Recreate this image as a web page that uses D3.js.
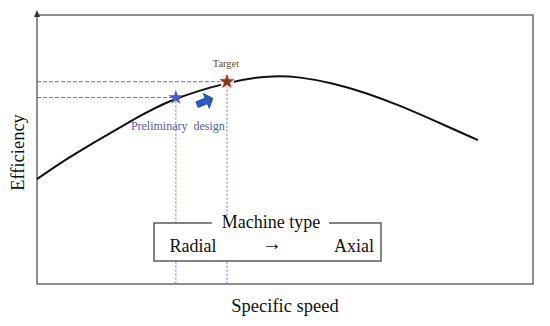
<!DOCTYPE html>
<html>
<head>
<meta charset="utf-8">
<script src="https://cdn.jsdelivr.net/npm/d3@7"></script>
<style>
  body { margin: 0; background: #fff; }
  svg { display: block; }
  text { font-family: "Liberation Serif", "Times New Roman", serif; }
</style>
</head>
<body>
<svg id="chart" width="550" height="326"></svg>
<script>
// efficiency curve (specific speed 0-100, efficiency 0-100)
const curveSpeed = [0, 6.5, 13.3, 20.0, 26.6, 38.3, 47.0, 53.0, 59.7, 66.5, 73.2, 79.8, 88.9];
const curveEff   = [39.0, 47.2, 54.6, 61.7, 68.4, 75.1, 77.6, 77.0, 74.7, 71.0, 66.3, 61.0, 53.5];

const pointNames = ["Preliminary design", "Target"];
const pointSpeed = [28.0, 38.3];
const pointEff   = [69.3, 75.2];

const machineTypes = ["Radial", "\u2192", "Axial"];

const svg = d3.select("#chart");
const W = 550, H = 326;
const m = { left: 37, right: 17, top: 15, bottom: 42 };

const x = d3.scaleLinear().domain([0, 100]).range([m.left, W - m.right]);
const y = d3.scaleLinear().domain([0, 100]).range([H - m.bottom, m.top]);

const dashCol = "#5f6ee0";

// frame
svg.append("rect")
    .attr("x", x(0)).attr("y", y(100))
    .attr("width", x(100) - x(0)).attr("height", y(0) - y(100))
    .attr("fill", "none")
    .attr("stroke", "#6a6a6a")
    .attr("stroke-width", 1.5);

// little arrow on the y axis
svg.append("path")
    .attr("d", `M${x(0) - 3},${y(100) + 2} L${x(0)},${y(100) - 5} L${x(0) + 3},${y(100) + 2} Z`)
    .attr("fill", "#333");

// guide lines
pointSpeed.forEach((s, i) => {
    svg.append("line")
        .attr("x1", x(0)).attr("x2", x(s))
        .attr("y1", y(pointEff[i])).attr("y2", y(pointEff[i]))
        .attr("stroke", dashCol).attr("stroke-width", 1)
        .attr("stroke-dasharray", "4,2");
    svg.append("line")
        .attr("x1", x(s)).attr("x2", x(s))
        .attr("y1", y(pointEff[i])).attr("y2", y(0))
        .attr("stroke", dashCol).attr("stroke-width", 1)
        .attr("stroke-dasharray", "2,2");
});

// efficiency curve
const line = d3.line()
    .x(d => x(d[0]))
    .y(d => y(d[1]))
    .curve(d3.curveBasis);

svg.append("path")
    .datum(d3.zip(curveSpeed, curveEff))
    .attr("d", line)
    .attr("fill", "none")
    .attr("stroke", "#111")
    .attr("stroke-width", 2);

// markers
const star = d3.symbol().type(d3.symbolStar).size(70);
svg.append("path")
    .attr("d", star())
    .attr("transform", `translate(${x(pointSpeed[0])},${y(pointEff[0])})`)
    .attr("fill", "#4d55d8");
svg.append("circle")
    .attr("cx", x(pointSpeed[1])).attr("cy", y(pointEff[1]))
    .attr("r", 7).attr("fill", "#ffe0ee");
svg.append("path")
    .attr("d", star())
    .attr("transform", `translate(${x(pointSpeed[1])},${y(pointEff[1])})`)
    .attr("fill", "#8a3c12");

// block arrow between the two points
const ax = (x(pointSpeed[0]) + x(pointSpeed[1])) / 2 + 3;
const ay = (y(pointEff[0]) + y(pointEff[1])) / 2 + 12;
svg.append("path")
    .attr("d", "M-8,-3 L2,-3 L2,-8 L9,0 L2,8 L2,3 L-8,3 Z")
    .attr("transform", `translate(${ax},${ay}) rotate(-22)`)
    .attr("fill", "#2a5cc8")
    .attr("stroke", "#1e48a8")
    .attr("stroke-width", 0.8);

// point labels
svg.append("text")
    .attr("x", x(pointSpeed[0]) + 2).attr("y", y(pointEff[0]) + 32)
    .attr("text-anchor", "middle")
    .attr("font-size", 12)
    .attr("fill", "#5656b8")
    .attr("xml:space", "preserve")
    .text("Preliminary  design");
svg.append("text")
    .attr("x", x(pointSpeed[1]) - 1).attr("y", y(pointEff[1]) - 15)
    .attr("text-anchor", "middle")
    .attr("font-size", 10.5)
    .attr("fill", "#6b4a2a")
    .text(pointNames[1]);

// machine type box
const bx0 = 154, bx1 = 381, by0 = 223, by1 = 261;
svg.append("rect")
    .attr("x", bx0).attr("y", by0)
    .attr("width", bx1 - bx0).attr("height", by1 - by0)
    .attr("fill", "#fff")
    .attr("stroke", "#333").attr("stroke-width", 1.2);
svg.append("rect")
    .attr("x", 212).attr("y", by0 - 3)
    .attr("width", 117).attr("height", 6)
    .attr("fill", "#fff");
svg.append("text")
    .attr("x", 271).attr("y", by0 + 5)
    .attr("text-anchor", "middle")
    .attr("font-size", 18)
    .attr("fill", "#111")
    .text("Machine type");

const typeX = [193, 272, 354];
const typeSize = [18, 20, 18];
svg.selectAll(".mtype")
    .data(machineTypes)
    .join("text")
    .attr("class", "mtype")
    .attr("x", (d, i) => typeX[i])
    .attr("y", (d, i) => i === 1 ? 250 : 252)
    .attr("text-anchor", "middle")
    .attr("font-size", (d, i) => typeSize[i])
    .attr("fill", "#111")
    .text(d => d);

// axis titles
svg.append("text")
    .attr("transform", `translate(24,${(y(0) + y(100)) / 2 + 3}) rotate(-90)`)
    .attr("text-anchor", "middle")
    .attr("font-size", 18.5)
    .attr("fill", "#111")
    .text("Efficiency");
svg.append("text")
    .attr("x", 285).attr("y", 312)
    .attr("text-anchor", "middle")
    .attr("font-size", 18.5)
    .attr("fill", "#111")
    .text("Specific speed");
</script>
</body>
</html>
